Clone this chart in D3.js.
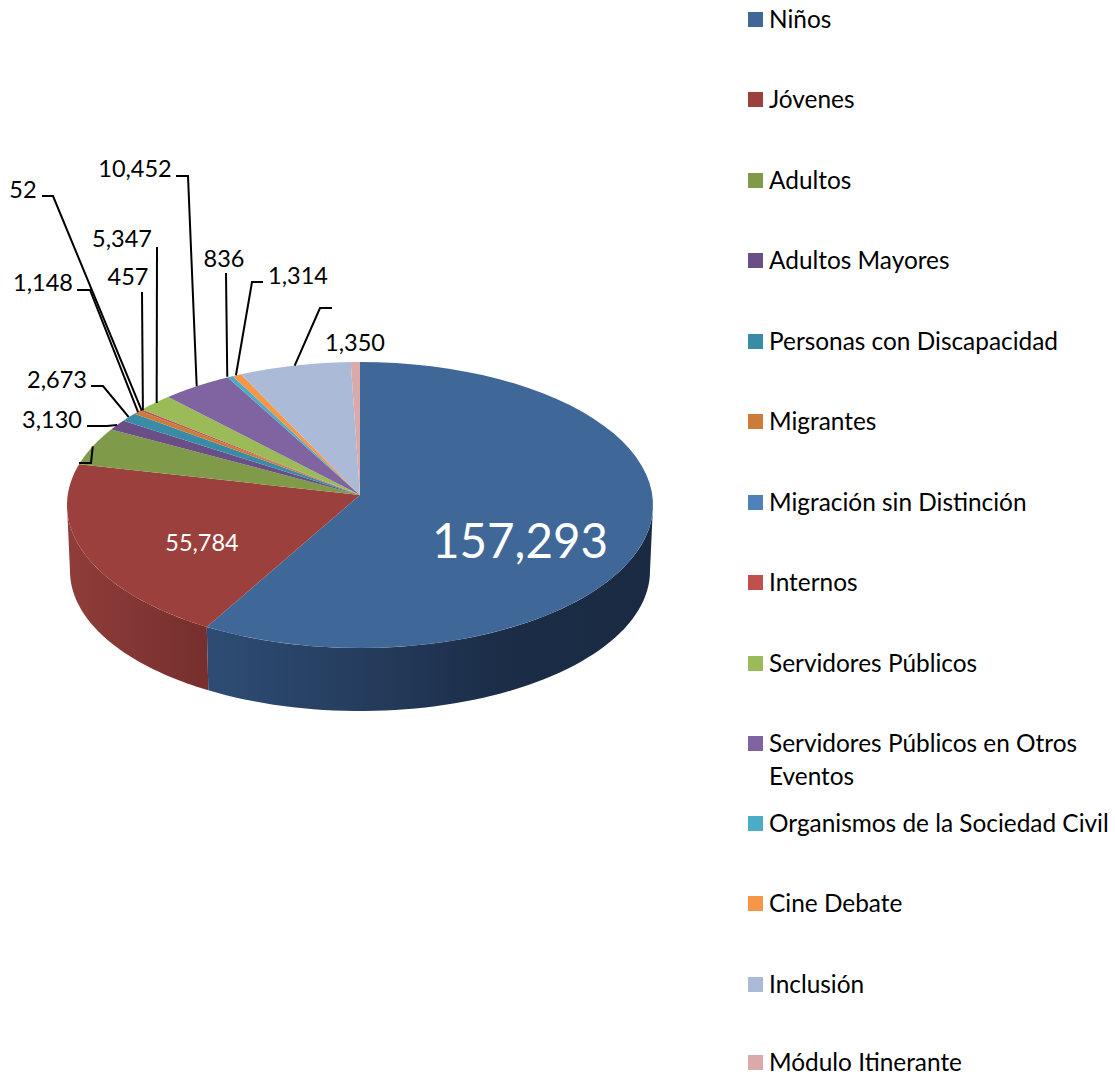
<!DOCTYPE html>
<html><head><meta charset="utf-8">
<script src="https://cdn.jsdelivr.net/npm/d3@7/dist/d3.min.js"></script>
<style>html,body{margin:0;padding:0;background:#fff}svg{display:block}text{font-family:Lato,"Open Sans",sans-serif}</style>
</head><body><svg id="c" width="1115" height="1076"></svg>
<script>
const categories=["Niños","Jóvenes","Adultos","Adultos Mayores","Personas con Discapacidad","Migrantes","Migración sin Distinción","Internos","Servidores Públicos","Servidores Públicos en Otros Eventos","Organismos de la Sociedad Civil","Cine Debate","Inclusión","Módulo Itinerante"];
const values=[157293,55784,11400,3130,2673,1148,52,457,5347,10452,836,1314,16460,1350];
const shownLabels=["157,293","55,784",null,"3,130","2,673","1,148","52","457","5,347","10,452","836","1,314",null,"1,350"];
const colors=["#3f6899","#9c403d","#7f9a48","#6a4f87","#3a8ca6","#cc7b38","#4f81bd","#c0504d","#9bbb59","#8064a2","#4bacc6","#f79646","#aabad7","#d9aaa9"];

// layout (pixels) kept apart from the data
const legendY=[19,99,180,260,341,421,502,582,663,743,823,903,984,1062];
const labelPos=[[520,541],[202,543],null,[52,420],[57,380],[43,283],[23,190],[128,277],[122,239],[135,169],[224,259],[298,276],null,[355,343]];
const elbows=[null,null,[[79,463],[91,463]],[[87,426],[107,426]],[[91,386],[103,386]],[[77,290],[90,290]],[[42,196],[53,196]],[[142,292]],[[157,247]],[[176,176],[188,176]],[[226,273]],[[263,282],[252,282]],[[332,308],[320,308]],null];
const anchorNudge=[0,0,0,0,0,1,2,2,2,0,-3,-1,0,0];

const svg=d3.select("#c");
const pie=d3.pie().sort(null).startAngle(0).endAngle(2*Math.PI)(values);
const apex=[360,495];
const xT=d3.scaleLinear().domain([-1,1]).range([67,653]);
const yT=d3.scaleLinear().domain([-1,1]).range([648,362]);
const xB=d3.scaleLinear().domain([-1,1]).range([70,650]);
const yB=d3.scaleLinear().domain([-1,1]).range([711,431]);
const rimTop=a=>[xT(Math.sin(a)),yT(Math.cos(a))];
const rimBot=a=>[xB(Math.sin(a)),yB(Math.cos(a))];
const line=d3.line();
const arcPts=(f,a0,a1)=>d3.range(0,61).map(i=>f(a0+(a1-a0)*i/60));

const defs=svg.append("defs");
function grad(id,stops){const g=defs.append("linearGradient").attr("id",id).attr("gradientUnits","userSpaceOnUse")
 .attr("x1",stops[0][0]).attr("x2",stops[stops.length-1][0]).attr("y1",0).attr("y2",0);
 const x0=stops[0][0],x1=stops[stops.length-1][0];
 stops.forEach(s=>g.append("stop").attr("offset",(s[0]-x0)/(x1-x0)).attr("stop-color",s[1]));}
grad("sideBlue",[[207,"#2e4c74"],[360,"#253d5e"],[500,"#1b2d47"],[653,"#1a2a42"]]);
grad("sideRed",[[67,"#8f3d3a"],[207,"#762f2d"]]);

// visible side walls
const h=Math.PI/2;
[[0,"url(#sideBlue)",h,pie[0].endAngle],[1,"url(#sideRed)",pie[1].startAngle,3*h]].forEach(([i,fill,a0,a1])=>{
 svg.append("path").attr("fill",fill)
  .attr("d",line(arcPts(rimTop,a0,a1).concat(arcPts(rimBot,a1,a0)))+"Z");
});

// top face
svg.selectAll("path.w").data(pie).join("path").attr("class","w")
 .attr("fill",(d,i)=>colors[i])
 .attr("d",d=>line([apex].concat(arcPts(rimTop,d.startAngle,d.endAngle)))+"Z");

// leaders
pie.forEach((d,i)=>{
 if(!elbows[i])return;
 const r=rimTop((d.startAngle+d.endAngle)/2);
 const anchor=[r[0]+anchorNudge[i],r[1]];
 svg.append("path").attr("fill","none").attr("stroke","#000").attr("stroke-width",2)
  .attr("d",line(elbows[i].concat([anchor])));
});

// value labels
shownLabels.forEach((t,i)=>{
 if(!t)return;
 const p=labelPos[i];
 const size=i===0?47.5:23.5;
 svg.append("text").attr("x",p[0]).attr("y",p[1]).attr("dy","0.35em").attr("text-anchor","middle")
  .attr("font-size",size).attr("fill",i<2?"#fff":"#000").text(t);
});

// legend
const legendSize=24.4;
categories.forEach((c,i)=>{
 const y=legendY[i];
 svg.append("rect").attr("x",748).attr("y",y-7).attr("width",15).attr("height",15).attr("fill",colors[i]);
 const t=svg.append("text").attr("x",769).attr("y",y).attr("dy","0.35em").attr("font-size",legendSize).attr("fill","#000");
 if(c==="Servidores Públicos en Otros Eventos"){
  t.text("Servidores Públicos en Otros");
  svg.append("text").attr("x",769).attr("y",y+33).attr("dy","0.35em").attr("font-size",legendSize).attr("fill","#000").text("Eventos");
 } else t.text(c);
});
</script></body></html>
